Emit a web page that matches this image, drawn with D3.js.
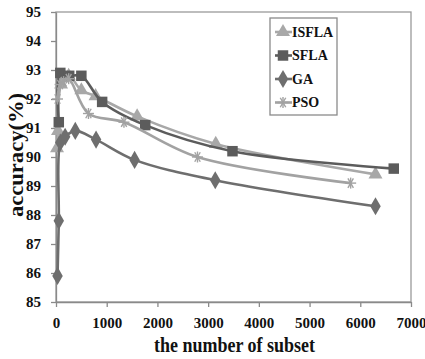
<!DOCTYPE html>
<html>
<head>
<meta charset="utf-8">
<script src="https://cdn.jsdelivr.net/npm/d3@7"></script>
<style>
  body { margin: 0; background: #fff; }
  svg { display: block; }
  .tick text { font-family: "Liberation Serif", serif; font-weight: bold; fill: #111; }
</style>
</head>
<body>
<div id="chart"></div>
<script>
// series values
const seriesNames = ['ISFLA', 'SFLA', 'GA', 'PSO'];
const isflaX = [20, 40, 100, 250, 500, 780, 1600, 3150, 6300];
const isflaY = [90.3, 90.9, 92.5, 92.8, 92.3, 92.1, 91.4, 90.45, 89.4];
const sflaX = [55, 85, 260, 500, 910, 1760, 3480, 6660];
const sflaY = [91.2, 92.9, 92.8, 92.8, 91.9, 91.1, 90.2, 89.6];
const gaX = [30, 55, 85, 180, 380, 790, 1550, 3140, 6300];
const gaY = [85.9, 87.8, 90.5, 90.7, 90.9, 90.6, 89.9, 89.2, 88.3];
const psoX = [30, 80, 150, 250, 640, 1340, 2790, 5810];
const psoY = [92.0, 92.5, 92.6, 92.7, 91.5, 91.2, 90.0, 89.1];
const xTicks = [0, 1000, 2000, 3000, 4000, 5000, 6000, 7000];
const yTicks = [85, 86, 87, 88, 89, 90, 91, 92, 93, 94, 95];

const width = 425, height = 359;
const margin = { top: 12, right: 14, bottom: 57, left: 56 };
const innerWidth = width - margin.left - margin.right;
const innerHeight = height - margin.top - margin.bottom;

const styles = {
  ISFLA: { color: '#a8a8a8', marker: d3.symbolTriangle, size: 85 },
  SFLA:  { color: '#5c5c5c', marker: d3.symbolSquare, size: 110 },
  GA:    { color: '#6e6e6e', marker: d3.symbolDiamond, size: 95 },
  PSO:   { color: '#a2a2a2', marker: 'star', size: 11 }
};

const series = [
  { name: 'ISFLA', pts: isflaX.map((x, i) => ({ x, y: isflaY[i] })) },
  { name: 'SFLA', pts: sflaX.map((x, i) => ({ x, y: sflaY[i] })) },
  { name: 'GA', pts: gaX.map((x, i) => ({ x, y: gaY[i] })) },
  { name: 'PSO', pts: psoX.map((x, i) => ({ x, y: psoY[i] })) }
];

const svg = d3.select('#chart').append('svg')
  .attr('width', width)
  .attr('height', height);

const g = svg.append('g')
  .attr('transform', `translate(${margin.left},${margin.top})`);

const xScale = d3.scaleLinear().domain([0, 7000]).range([0, innerWidth]);
const yScale = d3.scaleLinear().domain([85, 95]).range([innerHeight, 0]);

// plot frame
g.append('rect')
  .attr('width', innerWidth)
  .attr('height', innerHeight)
  .attr('fill', 'none')
  .attr('stroke', '#9a9a9a')
  .attr('stroke-width', 1.3);

// axes
const xAxis = g.append('g')
  .attr('transform', `translate(0,${innerHeight})`)
  .call(d3.axisBottom(xScale).tickValues(xTicks).tickSize(5).tickSizeOuter(0).tickFormat(d3.format('d')));
const yAxis = g.append('g')
  .call(d3.axisLeft(yScale).tickValues(yTicks).tickSize(5).tickSizeOuter(0));
[xAxis, yAxis].forEach(a => {
  a.selectAll('path, line').attr('stroke', '#8a8a8a').attr('stroke-width', 1.3);
});
xAxis.selectAll('text').attr('dy', '1.2em').style('font-size', '15px');
yAxis.selectAll('text').attr('x', -15).style('font-size', '15px');

// axis titles
svg.append('text')
  .attr('x', 154)
  .attr('y', 352)
  .attr('textLength', 161)
  .attr('lengthAdjust', 'spacingAndGlyphs')
  .style('font-family', '"Liberation Serif", serif')
  .style('font-weight', 'bold')
  .style('font-size', '20px')
  .attr('fill', '#111')
  .text('the number of subset');

svg.append('text')
  .attr('transform', 'translate(23,217) rotate(-90)')
  .attr('textLength', 124)
  .attr('lengthAdjust', 'spacingAndGlyphs')
  .style('font-family', '"Liberation Serif", serif')
  .style('font-weight', 'bold')
  .style('font-size', '20px')
  .attr('fill', '#111')
  .text('accuracy(%)');

const line = d3.line()
  .x(d => xScale(d.x))
  .y(d => yScale(d.y))
  .curve(d3.curveCatmullRom.alpha(0.5));

function drawMarker(sel, name) {
  const st = styles[name];
  if (st.marker === 'star') {
    const r = st.size / 2;
    const star = sel.append('g').attr('stroke', st.color).attr('stroke-width', 1.4);
    [0, 60, 120].forEach(a => {
      const rad = a * Math.PI / 180;
      star.append('line')
        .attr('x1', -r * Math.cos(rad)).attr('y1', -r * Math.sin(rad))
        .attr('x2', r * Math.cos(rad)).attr('y2', r * Math.sin(rad));
    });
    star.append('line').attr('x1', 0).attr('y1', -r).attr('x2', 0).attr('y2', r);
  } else {
    sel.append('path')
      .attr('d', d3.symbol().type(st.marker).size(st.size))
      .attr('fill', st.color);
  }
}

series.forEach(s => {
  const st = styles[s.name];
  g.append('path')
    .datum(s.pts)
    .attr('d', line)
    .attr('fill', 'none')
    .attr('stroke', st.color)
    .attr('stroke-width', 2.6);
  s.pts.forEach(p => {
    const m = g.append('g').attr('transform', `translate(${xScale(p.x)},${yScale(p.y)})`);
    drawMarker(m, s.name);
  });
});

// legend
const legend = svg.append('g').attr('transform', 'translate(270,18)');
legend.append('rect')
  .attr('width', 67)
  .attr('height', 97)
  .attr('fill', '#fff')
  .attr('stroke', '#8a8a8a')
  .attr('stroke-width', 1.3);
seriesNames.forEach((name, i) => {
  const st = styles[name];
  const row = legend.append('g').attr('transform', `translate(0,${14 + i * 23.5})`);
  row.append('line')
    .attr('x1', 5).attr('x2', 22)
    .attr('stroke', st.color)
    .attr('stroke-width', 2.6);
  drawMarker(row.append('g').attr('transform', 'translate(13,0)'), name);
  row.append('text')
    .attr('x', 22)
    .attr('dy', '0.35em')
    .style('font-family', '"Liberation Serif", serif')
    .style('font-weight', 'bold')
    .style('font-size', '14px')
    .attr('fill', '#111')
    .text(name);
});
</script>
</body>
</html>
